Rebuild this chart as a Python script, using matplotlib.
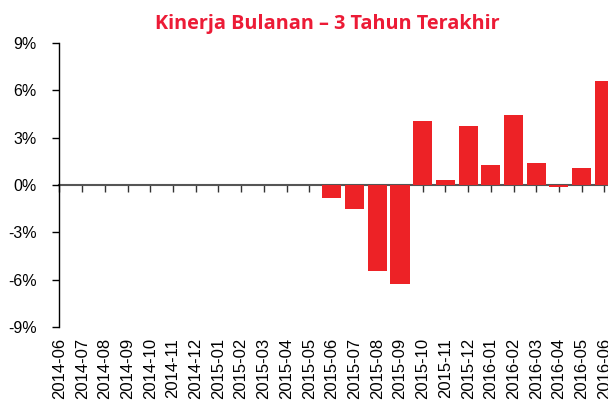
import numpy as np
import matplotlib
matplotlib.use("Agg")
import matplotlib.pyplot as plt

# --- Data (monthly return, %) ---
months = [
    "2014-06", "2014-07", "2014-08", "2014-09", "2014-10", "2014-11", "2014-12",
    "2015-01", "2015-02", "2015-03", "2015-04", "2015-05", "2015-06", "2015-07",
    "2015-08", "2015-09", "2015-10", "2015-11", "2015-12", "2016-01", "2016-02",
    "2016-03", "2016-04", "2016-05", "2016-06",
]
returns = [
    0.0, 0.0, 0.0, 0.0, 0.0, 0.0, 0.0,
    0.0, 0.0, 0.0, 0.0, 0.0, -0.80, -1.52,
    -5.43, -6.27, 4.04, 0.30, 3.72, 1.25, 4.46,
    1.37, -0.15, 1.06, 6.57,
]
y_ticks = [-9, -6, -3, 0, 3, 6, 9]

title = "Kinerja Bulanan \u2013 3 Tahun Terakhir"
red = "#ED2226"
title_red = "#EC1B36"

plt.rcParams["font.family"] = ["Liberation Sans", "DejaVu Sans"]

fig = plt.figure(figsize=(6.08, 4.03), dpi=100)
ax = fig.add_axes([59 / 608, 76 / 403, 549 / 608, 284 / 403])

x = np.arange(len(months))
ax.bar(x, returns, width=0.84, color=red, zorder=2)

ax.set_xlim(-0.02, 24.16)
ax.set_ylim(-9, 9)
ax.set_yticks(y_ticks)
ax.set_yticklabels([f"{v}%" for v in y_ticks])
ax.tick_params(axis="y", length=5, width=1, pad=11, labelsize=11.5, colors="black")

ax.set_xticks(x)
ax.set_xticklabels(months, rotation=90, fontsize=12)
ax.tick_params(axis="x", length=0, pad=8)

for s in ["top", "right", "bottom"]:
    ax.spines[s].set_visible(False)
ax.spines["left"].set_linewidth(1)

# zero line with its own tick marks
sec = ax.secondary_xaxis(0.5)
sec.set_alignment("bottom")
sec.set_xticks(x)
sec.set_xticklabels([])
sec.tick_params(axis="x", length=5, width=1, color="#333333")
sec.spines["bottom"].set_color("#555555")
sec.spines["bottom"].set_linewidth(1.5)
sec.spines["bottom"].set_zorder(3)

fig.text(0.538, 1 - 29 / 403, title, ha="center", va="baseline",
         fontsize=14.3, fontweight="bold", color=title_red,
         family=["Open Sans", "DejaVu Sans"])

fig.savefig("out.png", dpi=100)
